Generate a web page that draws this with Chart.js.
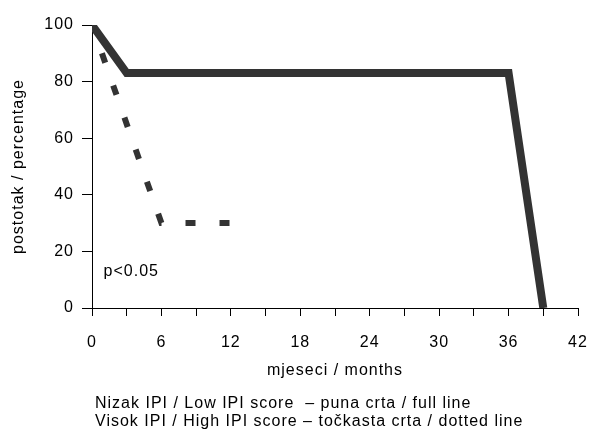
<!DOCTYPE html>
<html>
<head>
<meta charset="utf-8">
<script src="https://cdn.jsdelivr.net/npm/chart.js@4.4.1/dist/chart.umd.min.js"></script>
<style>
  html, body { margin: 0; padding: 0; background: #fff; }
  #wrap { width: 594px; height: 431px; }
</style>
</head>
<body>
<div id="wrap"><canvas id="chart" width="594" height="431"></canvas></div>
<script>
// survival curves, months on x, percentage on y
var lowMonths = [0, 3, 36, 39];
var lowValues = [100, 83, 83, 0];
var highMonths = [0, 6, 12];
var highValues = [100, 30, 30];

var xTicks = [0, 6, 12, 18, 24, 30, 36, 42];
var yTicks = [0, 20, 40, 60, 80, 100];

var pText = "p<0.05";
var noteLines = [
    "Nizak IPI / Low IPI score  \u2013 puna crta / full line",
    "Visok IPI / High IPI score \u2013 to\u010dkasta crta / dotted line"
];

var FONT = "'Liberation Sans', Arial, Helvetica, sans-serif";
var SPACING = "1px"; // reference text is a bit wider than Arial

function toPoints(xs, ys) {
    return xs.map(function (x, i) { return { x: x, y: ys[i] }; });
}

// draw the p value and the footnote, keep letter spacing on
var notesPlugin = {
    id: "notes",
    beforeLayout: function (chart) { chart.ctx.letterSpacing = SPACING; },
    beforeDraw: function (chart) { chart.ctx.letterSpacing = SPACING; },
    afterDraw: function (chart) {
        var ctx = chart.ctx;
        var xs = chart.scales.x;
        var ys = chart.scales.y;
        ctx.save();
        ctx.letterSpacing = SPACING;
        ctx.fillStyle = "#000";
        ctx.font = "16px " + FONT;
        ctx.textBaseline = "middle";
        ctx.textAlign = "left";
        ctx.fillText(pText, xs.getPixelForValue(1), ys.getPixelForValue(13));
        ctx.fillText(noteLines[0], 95, 404);
        ctx.fillText(noteLines[1], 95, 422);
        ctx.restore();
    }
};

var ctx = document.getElementById("chart").getContext("2d");
ctx.letterSpacing = SPACING;
new Chart(ctx, {
    type: "line",
    data: {
        datasets: [{
            label: "Low IPI",
            data: toPoints(lowMonths, lowValues),
            borderColor: "#333333",
            borderWidth: 8,
            pointRadius: 0,
            fill: false,
            tension: 0,
            borderJoinStyle: "miter",
            borderCapStyle: "butt"
        }, {
            label: "High IPI",
            data: toPoints(highMonths, highValues),
            borderColor: "#333333",
            borderWidth: 6,
            borderDash: [10, 24],
            borderDashOffset: 4,
            pointRadius: 0,
            fill: false,
            tension: 0,
            borderCapStyle: "butt",
            order: 1
        }]
    },
    options: {
        responsive: false,
        animation: false,
        layout: { padding: { top: 25, right: 0, left: 0, bottom: 0 } },
        plugins: {
            legend: { display: false },
            tooltip: { enabled: false }
        },
        scales: {
            x: {
                type: "linear",
                min: 0,
                max: 42,
                afterFit: function (s) {
                    s.height = 123;
                    s.paddingLeft = 0;
                    s.paddingRight = 16;
                },
                afterBuildTicks: function (s) {
                    var t = [];
                    for (var v = 0; v <= 42; v += 3) t.push({ value: v });
                    s.ticks = t;
                },
                ticks: {
                    color: "#000",
                    font: { family: FONT, size: 16 },
                    padding: 17,
                    maxRotation: 0,
                    autoSkip: false,
                    callback: function (v) { return xTicks.indexOf(v) >= 0 ? String(v) : ""; }
                },
                grid: { display: true, drawOnChartArea: false, drawTicks: true, tickLength: 8, color: "#000" },
                border: { display: true, color: "#000", width: 1 },
                title: {
                    display: true,
                    text: "mjeseci / months",
                    color: "#000",
                    font: { family: FONT, size: 16 },
                    padding: { top: 0, bottom: 51 }
                }
            },
            y: {
                min: 0,
                max: 100,
                afterFit: function (s) { s.width = 92; },
                afterBuildTicks: function (s) {
                    s.ticks = yTicks.map(function (v) { return { value: v }; });
                },
                ticks: {
                    color: "#000",
                    font: { family: FONT, size: 16 },
                    padding: 8
                },
                grid: { display: true, drawOnChartArea: false, drawTicks: true, tickLength: 10, color: "#000" },
                border: { display: true, color: "#000", width: 1 },
                title: {
                    display: true,
                    text: "postotak / percentage",
                    color: "#000",
                    font: { family: FONT, size: 16 },
                    padding: { top: 9, bottom: 0 }
                }
            }
        }
    },
    plugins: [notesPlugin]
});
</script>
</body>
</html>
